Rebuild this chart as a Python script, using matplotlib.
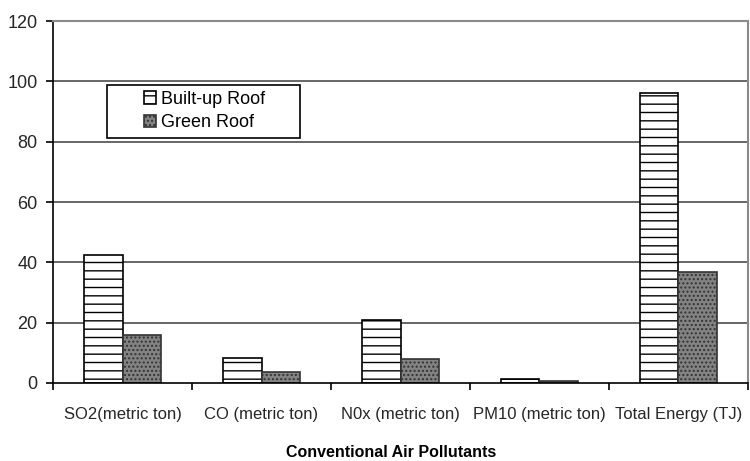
import matplotlib.pyplot as plt
import matplotlib.patches as mpatches
import numpy as np

plt.rcParams['font.family'] = ['Liberation Sans', 'DejaVu Sans']
plt.rcParams['hatch.linewidth'] = 1.0

# data
categories = ['SO2(metric ton)', 'CO (metric ton)', 'N0x (metric ton)',
              'PM10 (metric ton)', 'Total Energy (TJ)']
built_up = [42.5, 8.3, 20.8, 1.3, 96.3]
green = [15.8, 3.7, 7.8, 0.5, 36.8]
y_ticks = [0, 20, 40, 60, 80, 100, 120]

fig = plt.figure(figsize=(7.5, 4.61), dpi=100)
ax = fig.add_axes([0.0707, 0.1692, 0.9266, 0.7852])

x = np.arange(len(categories))
w = 0.28
txt = '#262626'

# horizontal gridlines behind the bars
for yv in y_ticks[1:-1]:
    ax.axhline(yv, color='#4d4d4d', linewidth=1.2, zorder=0)

b1 = ax.bar(x - w / 2, built_up, w, facecolor='white', edgecolor='black',
            hatch='--', linewidth=1.2, label='Built-up Roof', zorder=2)
b2 = ax.bar(x + w / 2, green, w, facecolor='#838383', edgecolor='#333333',
            hatch='....', linewidth=1.2, label='Green Roof', zorder=2)

ax.set_xlim(-0.5, len(categories) - 0.5)
ax.set_ylim(0, 120)
ax.set_yticks(y_ticks)
ax.set_yticklabels([str(v) for v in y_ticks], fontsize=13, color=txt)

# x ticks sit on the category boundaries, labels in the middle
ax.set_xticks(np.arange(len(categories) + 1) - 0.5)
ax.set_xticklabels([])
ax.set_xticks(x, minor=True)
ax.set_xticklabels(categories, minor=True, fontsize=12, color=txt)
ax.tick_params(axis='x', which='major', direction='out', length=5, width=1.2)
ax.tick_params(axis='x', which='minor', length=0, pad=17)
ax.tick_params(axis='y', direction='out', length=5, width=1.2, pad=6)

ax.spines['left'].set_linewidth(1.2)
ax.spines['bottom'].set_linewidth(1.2)
for s in ['top', 'right']:
    ax.spines[s].set_color('#8a8a8a')
    ax.spines[s].set_linewidth(1.5)

# legend frame is wider than its content in the reference
frame = mpatches.Rectangle((107 / 750, 1 - 138 / 461), 193 / 750, 53 / 461,
                           transform=fig.transFigure, facecolor='white',
                           edgecolor='black', linewidth=1.2, zorder=4)
ax.add_patch(frame)
leg = ax.legend(loc='center left', bbox_to_anchor=(144 / 750, 1 - 111 / 461),
                bbox_transform=fig.transFigure, fontsize=13, frameon=False,
                handlelength=0.65, handleheight=0.65, handletextpad=0.3,
                borderpad=0, labelspacing=0.35, borderaxespad=0)
leg.set_zorder(5)

fig.text(391 / 750, 1 - 452 / 461, 'Conventional Air Pollutants',
         ha='center', va='center', fontsize=11.5, fontweight='bold',
         family=['Liberation Sans Narrow', 'Liberation Sans'])

fig.savefig('out.png', dpi=100)
